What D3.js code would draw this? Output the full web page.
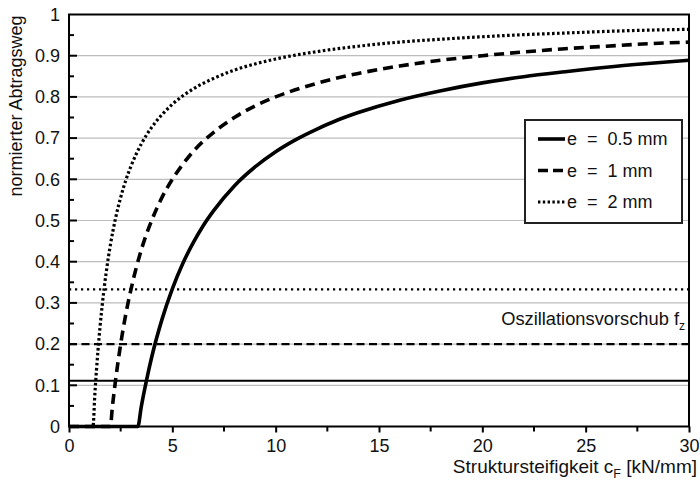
<!DOCTYPE html>
<html>
<head>
<meta charset="utf-8">
<script src="https://cdn.jsdelivr.net/npm/d3@7"></script>
<style>
  html, body { margin: 0; padding: 0; background: #fff; }
  svg { display: block; font-family: "Liberation Sans", Arial, sans-serif; }
  text { white-space: pre; }
</style>
</head>
<body>
<svg id="chart" width="700" height="487"></svg>
<script>
// Normalised removal path vs. structural stiffness for three amplitudes e
const xTicks = [0, 5, 10, 15, 20, 25, 30];
const yTicks = [0, 0.1, 0.2, 0.3, 0.4, 0.5, 0.6, 0.7, 0.8, 0.9, 1];
const yTickLabels = ["0", "0.1", "0.2", "0.3", "0.4", "0.5", "0.6", "0.7", "0.8", "0.9", "1"];

const stiffness05 = [0, 3.33, 3.5, 3.75, 4, 4.5, 5, 5.5, 6, 6.5, 7, 8, 9, 10, 11, 12, 13, 14, 16, 18, 20, 22, 24, 26, 28, 30];
const removal05  = [0, 0, 0.049, 0.112, 0.168, 0.26, 0.334, 0.395, 0.445, 0.488, 0.524, 0.584, 0.63, 0.667, 0.697, 0.722, 0.744, 0.762, 0.792, 0.815, 0.834, 0.849, 0.861, 0.872, 0.881, 0.889];

const stiffness1 = [0, 2, 2.1, 2.25, 2.5, 2.75, 3, 3.5, 4, 4.5, 5, 5.5, 6, 7, 8, 9, 10, 12, 14, 16, 18, 20, 22, 24, 26, 28, 30];
const removal1  = [0, 0, 0.048, 0.111, 0.2, 0.273, 0.333, 0.429, 0.5, 0.556, 0.6, 0.636, 0.667, 0.714, 0.75, 0.778, 0.8, 0.833, 0.857, 0.875, 0.889, 0.9, 0.909, 0.917, 0.923, 0.929, 0.933];

const stiffness2 = [0, 1.16, 1.25, 1.4, 1.6, 1.8, 2, 2.25, 2.5, 2.75, 3, 3.5, 4, 4.5, 5, 6, 7, 8, 9, 10, 12, 14, 16, 18, 20, 22, 24, 26, 28, 30];
const removal2  = [0, 0, 0.078, 0.183, 0.291, 0.374, 0.44, 0.505, 0.556, 0.598, 0.632, 0.686, 0.726, 0.757, 0.782, 0.819, 0.845, 0.865, 0.88, 0.892, 0.91, 0.923, 0.933, 0.94, 0.946, 0.951, 0.955, 0.959, 0.962, 0.964];

// Oscillation feed f_z for each amplitude (horizontal reference lines)
const feedLevels = [0.111, 0.2, 0.333];

const seriesLabels = ["e  =  0.5 mm", "e  =  1 mm", "e  =  2 mm"];

const svg = d3.select("#chart");
const plotLeft = 69, plotRight = 689, plotTop = 14.5, plotBottom = 426.5;

const x = d3.scaleLinear().domain([0, 30]).range([plotLeft, plotRight]);
const y = d3.scaleLinear().domain([0, 1]).range([plotBottom, plotTop]);

const styles = [
  { width: 3.6, dash: null, cap: "butt" },
  { width: 3.6, dash: "10,6", cap: "butt" },
  { width: 3.2, dash: "2.6,2.4", cap: "butt" }
];
const refStyles = [
  { width: 2, dash: null },
  { width: 2.2, dash: "8,4.5" },
  { width: 2.2, dash: "2.2,3.8" }
];

// horizontal grid
svg.append("g")
  .selectAll("line")
  .data(yTicks.slice(1, -1))
  .join("line")
  .attr("x1", plotLeft).attr("x2", plotRight)
  .attr("y1", d => y(d)).attr("y2", d => y(d))
  .attr("stroke", "#bdbdbd").attr("stroke-width", 1.2);

// feed reference lines
svg.append("g")
  .selectAll("line")
  .data(feedLevels)
  .join("line")
  .attr("x1", plotLeft).attr("x2", plotRight)
  .attr("y1", d => y(d)).attr("y2", d => y(d))
  .attr("stroke", "#000")
  .attr("stroke-width", (d, i) => refStyles[i].width)
  .attr("stroke-dasharray", (d, i) => refStyles[i].dash);

svg.append("text")
  .attr("x", 685).attr("y", 325)
  .attr("text-anchor", "end")
  .attr("font-size", 18.3)
  .attr("fill", "#111")
  .text("Oszillationsvorschub f")
  .append("tspan")
  .attr("font-size", 12).attr("dy", 5)
  .text("z");

// curves
const series = [
  d3.zip(stiffness05, removal05),
  d3.zip(stiffness1, removal1),
  d3.zip(stiffness2, removal2)
];
const line = d3.line().x(d => x(d[0])).y(d => y(d[1])).curve(d3.curveMonotoneX);

svg.append("g")
  .selectAll("path")
  .data(series)
  .join("path")
  .attr("d", line)
  .attr("fill", "none")
  .attr("stroke", "#000")
  .attr("stroke-width", (d, i) => styles[i].width)
  .attr("stroke-dasharray", (d, i) => styles[i].dash)
  .attr("stroke-linecap", (d, i) => styles[i].cap);

// plot frame
svg.append("rect")
  .attr("x", plotLeft).attr("y", plotTop)
  .attr("width", plotRight - plotLeft).attr("height", plotBottom - plotTop)
  .attr("fill", "none").attr("stroke", "#000").attr("stroke-width", 2);

// x axis
const xAxis = svg.append("g").attr("transform", `translate(0,${plotBottom})`);
xAxis.call(d3.axisBottom(x).tickValues(xTicks).tickFormat(d3.format("d")).tickSize(6).tickSizeOuter(0))
  .call(g => g.select(".domain").remove())
  .call(g => g.selectAll(".tick line").attr("stroke-width", 2))
  .call(g => g.selectAll(".tick text").attr("font-size", 18).attr("fill", "#111")
    .attr("font-family", "Liberation Sans, Arial, sans-serif").attr("dy", "0.72em").attr("y", 13));
xAxis.append("g")
  .selectAll("line")
  .data(d3.range(2.5, 30, 5))
  .join("line")
  .attr("x1", d => x(d)).attr("x2", d => x(d))
  .attr("y1", 0).attr("y2", 5)
  .attr("stroke", "#000").attr("stroke-width", 2);

// y axis
const yAxis = svg.append("g").attr("transform", `translate(${plotLeft},0)`);
yAxis.call(d3.axisLeft(y).tickValues(yTicks).tickFormat((d, i) => yTickLabels[i]).tickSize(0).tickPadding(9))
  .call(g => g.select(".domain").remove())
  .call(g => g.selectAll(".tick text").attr("font-size", 18).attr("fill", "#111")
    .attr("font-family", "Liberation Sans, Arial, sans-serif"));
yAxis.append("g")
  .selectAll("line")
  .data(yTicks.slice(1, -1))
  .join("line")
  .attr("x1", -1).attr("x2", 8)
  .attr("y1", d => y(d)).attr("y2", d => y(d))
  .attr("stroke", "#000").attr("stroke-width", 2);
yAxis.append("g")
  .selectAll("line")
  .data(d3.range(0.05, 1, 0.1))
  .join("line")
  .attr("x1", 0).attr("x2", 5)
  .attr("y1", d => y(d)).attr("y2", d => y(d))
  .attr("stroke", "#000").attr("stroke-width", 2);

// axis titles
const xt = svg.append("text")
  .attr("x", 697).attr("y", 473)
  .attr("text-anchor", "end")
  .attr("font-size", 19)
  .attr("fill", "#111");
xt.append("tspan").text("Struktursteifigkeit c");
xt.append("tspan").attr("font-size", 12.5).attr("dy", 5).text("F");
xt.append("tspan").attr("dy", -5).text(" [kN/mm]");

svg.append("text")
  .attr("transform", "translate(22,106) rotate(-90)")
  .attr("text-anchor", "middle")
  .attr("font-size", 18)
  .attr("fill", "#111")
  .text("normierter Abtragsweg");

// legend
const legend = svg.append("g");
legend.append("rect")
  .attr("x", 525).attr("y", 120)
  .attr("width", 157).attr("height", 103)
  .attr("fill", "#fff").attr("stroke", "#222").attr("stroke-width", 2);

const legendDash = ["none", "10,5", "2.4,2.4"];
const rows = legend.selectAll("g.row")
  .data(seriesLabels)
  .join("g")
  .attr("class", "row")
  .attr("transform", (d, i) => `translate(0,${139 + i * 31.5})`);
rows.append("line")
  .attr("x1", 538).attr("x2", 565)
  .attr("y1", 0).attr("y2", 0)
  .attr("stroke", "#000")
  .attr("stroke-width", (d, i) => styles[i].width)
  .attr("stroke-dasharray", (d, i) => legendDash[i]);
rows.append("text")
  .attr("x", 567).attr("y", 0).attr("dy", "0.35em")
  .attr("font-size", 18)
  .attr("fill", "#111")
  .text(d => d);
</script>
</body>
</html>
